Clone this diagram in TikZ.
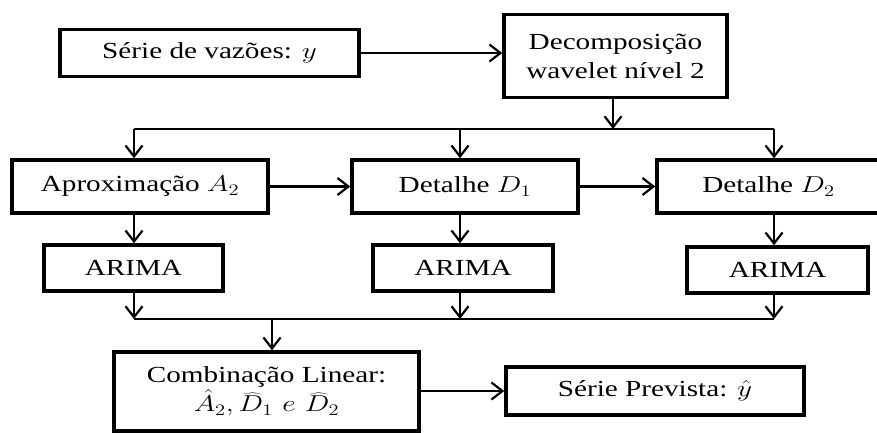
\RequirePackage{fix-cm}
\documentclass[tikz,border=0pt]{standalone}
\usepackage{fontspec}
\setmainfont{Liberation Serif}[FakeStretch=1.27]
\usepackage{graphicx}
\usetikzlibrary{arrows.meta}
% math set with the same horizontal stretch as the text font
\newcommand{\wm}[1]{\scalebox{1.27}[1]{$#1$}}
\tikzset{
  box/.style={draw, line width=3.5pt, inner sep=0pt, align=center,
    font=\fontsize{23}{29}\selectfont},
  flow/.style={line width=2.2pt, -{Straight Barb[length=11pt,width=17pt]}},
  link/.style={line width=2.2pt},
}
\begin{document}
\begin{tikzpicture}[x=1pt,y=-1pt]
\useasboundingbox (0,0) rectangle (877,432);

% input and decomposition
\node[box, minimum width=299pt, minimum height=47pt] (ser) at (209.5,53) {Série de vazões: \wm{y}};
\node[box, minimum width=223pt, minimum height=83pt] (dec) at (615.5,56) {Decomposição\\wavelet nível 2};

% components
\node[box, minimum width=256pt, minimum height=53pt] (apr) at (140,186.5) {Aproximação \wm{A_2}};
\node[box, minimum width=226pt, minimum height=53pt] (det1) at (465,186.5) {Detalhe \wm{D_1}};
\node[box, minimum width=223pt, minimum height=53pt] (det2) at (768.5,186.5) {Detalhe \wm{D_2}};

% models
\node[box, minimum width=179pt, minimum height=46pt] (ar1) at (133.5,268) {ARIMA};
\node[box, minimum width=180pt, minimum height=46pt] (ar2) at (463,268) {ARIMA};
\node[box, minimum width=181pt, minimum height=46pt] (ar3) at (777.5,270) {ARIMA};

% combination and forecast
\node[box, minimum width=305pt, minimum height=79pt] (comb) at (266.5,391.5)
  {Combinação Linear:\\\wm{\hat{A}_2, \widehat{D}_1\ e\ \widehat{D}_2}};
\node[box, minimum width=298pt, minimum height=48pt] (prev) at (655,391) {Série Prevista: \wm{\hat{y}}};

% split and join points
\coordinate (sL) at (134,129);
\coordinate (sM) at (460,129);
\coordinate (sR) at (774,129);
\coordinate (sD) at (613,129);
\coordinate (jL) at (134,319);
\coordinate (jM) at (460,319);
\coordinate (jR) at (774,319);
\coordinate (jC) at (272,319);

\draw[flow] (ser.east) -- (ser.east -| dec.west);
\draw[flow] (sD |- dec.south) -- (sD);
\draw[link] (sL) -- (sR);
\draw[flow] (sL) -- (sL |- apr.north);
\draw[flow] (sM) -- (sM |- det1.north);
\draw[flow] (sR) -- (sR |- det2.north);

\draw[flow] (apr.east) -- (apr.east -| det1.west);
\draw[flow] (det1.east) -- (det1.east -| det2.west);

\draw[flow] (sL |- apr.south) -- (sL |- ar1.north);
\draw[flow] (sM |- det1.south) -- (sM |- ar2.north);
\draw[flow] (sR |- det2.south) -- (sR |- ar3.north);

\draw[flow] (jL |- ar1.south) -- (jL);
\draw[flow] (jM |- ar2.south) -- (jM);
\draw[flow] (jR |- ar3.south) -- (jR);
\draw[link] (jL) -- (jR);
\draw[flow] (jC) -- (jC |- comb.north);

\draw[flow] (comb.east |- prev.west) -- (prev.west);
\end{tikzpicture}
\end{document}
